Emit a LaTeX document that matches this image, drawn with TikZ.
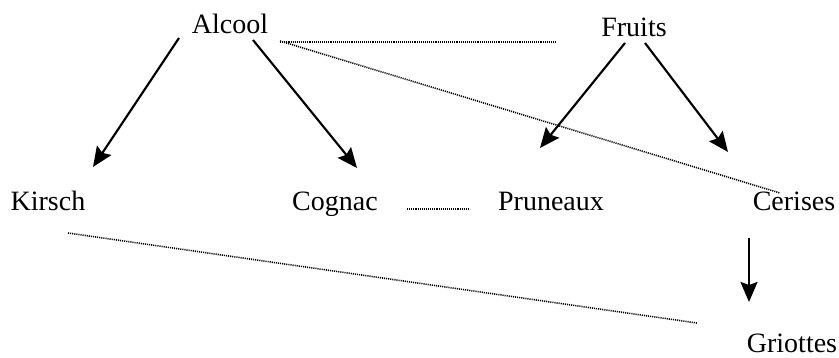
\documentclass[tikz,border=0pt]{standalone}
\usepackage{fontspec}
\setmainfont{Liberation Serif}
\usetikzlibrary{calc,arrows.meta}

\tikzset{
    mot/.style={anchor=base, inner sep=1pt, font=\fontsize{28}{32}\selectfont},
    fleche/.style={line width=0.75mm, -{Stealth[length=20pt, width=17pt, inset=3pt]}},
    lien/.style={line width=0.55mm, dash pattern=on 1.1pt off 1pt}
}

\begin{document}
\begin{tikzpicture}[x=1pt, y=-1pt]
    \useasboundingbox (0,0) rectangle (839,358);

    % les mots
    \node[mot] (alcool)   at (230,34)  {Alcool};
    \node[mot] (fruits)   at (634,37)  {Fruits};
    \node[mot] (kirsch)   at (48,211)  {Kirsch};
    \node[mot] (cognac)   at (335,211) {Cognac};
    \node[mot] (pruneaux) at (551,211) {Pruneaux};
    \node[mot] (cerises)  at (794,211) {Cerises};
    \node[mot] (griottes) at (792,353) {Griottes};

    % fleches pleines
    \draw[fleche] ($(alcool.base)+(-51,4)$) -- ($(kirsch.base)+(45,-44)$);
    \draw[fleche] ($(alcool.base)+(23,6)$) -- ($(cognac.base)+(22,-43)$);
    \draw[fleche] ($(fruits.base)+(-9,6)$) -- ($(pruneaux.base)+(-11,-63)$);
    \draw[fleche] ($(fruits.base)+(11,6)$) -- ($(cerises.base)+(-66,-59)$);
    \draw[fleche] ($(cerises.base)+(-45,27)$) -- ($(griottes.base)+(-43,-51)$);

    % liens en pointilles
    \draw[lien] ($(alcool.base)+(50,8)$) -- ($(fruits.base)+(-77,5)$);
    \draw[lien] ($(alcool.base)+(50,7)$) -- ($(cerises.base)+(-14,-18)$);
    \draw[lien] ($(cognac.base)+(72,-2)$) -- ($(pruneaux.base)+(-81,-2)$);
    \draw[lien] ($(kirsch.base)+(20,22)$) -- ($(griottes.base)+(-95,-30)$);
\end{tikzpicture}
\end{document}
